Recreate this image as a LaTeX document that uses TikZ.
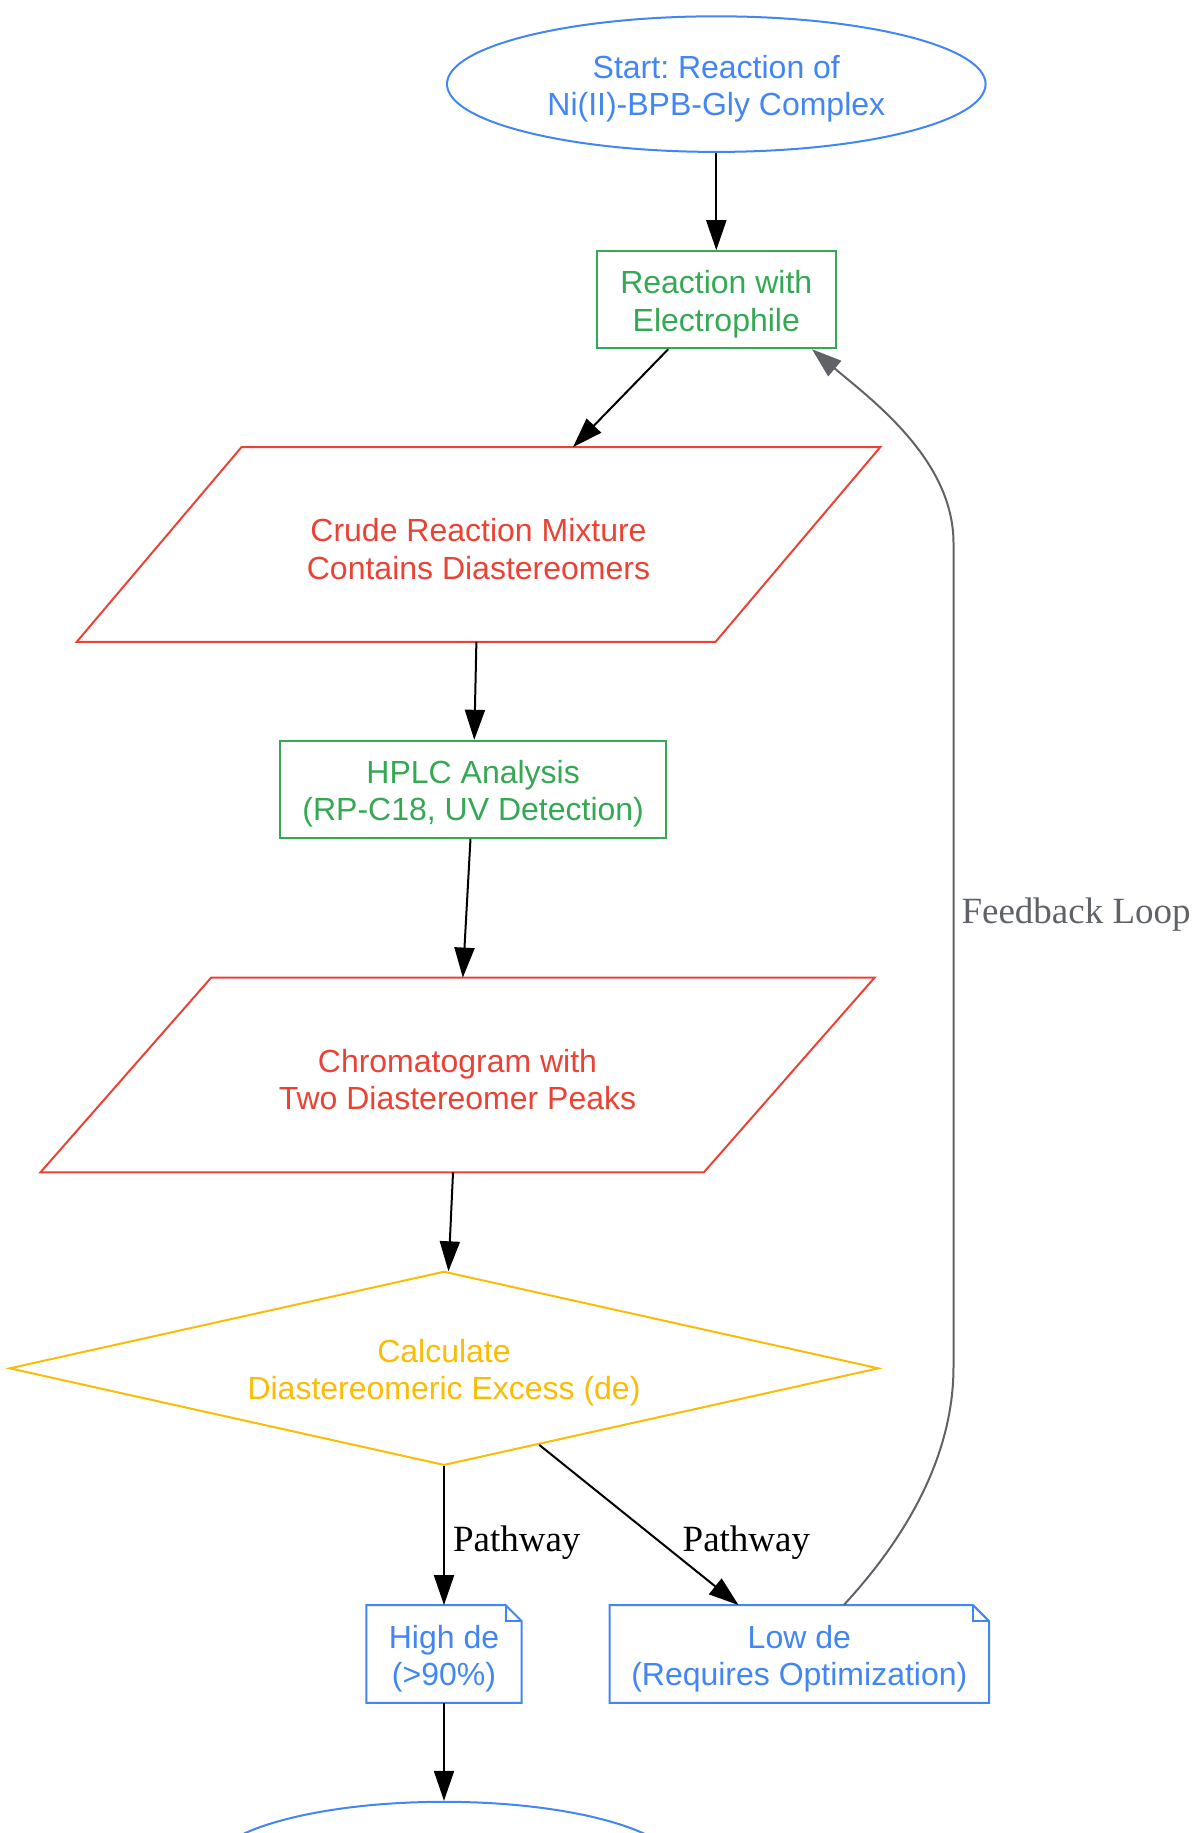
\documentclass[tikz,border=0pt]{standalone}
\usepackage{fontspec}
\setmainfont{Liberation Sans}
\newfontfamily\edgefont{Liberation Serif}
\usetikzlibrary{shapes.geometric,arrows.meta,calc}
\frenchspacing

\definecolor{gblue}{HTML}{4285F4}
\definecolor{ggreen}{HTML}{34A853}
\definecolor{gred}{HTML}{EA4335}
\definecolor{gyellow}{HTML}{FBBC05}
\definecolor{ggrey}{HTML}{5F6368}

\newcommand{\tstrut}{\rule{0pt}{16pt}}

\tikzset{
  txt/.style={align=center, inner sep=0pt, font=\fontsize{16}{18.7}\selectfont},
  term/.style={txt, ellipse, draw=gblue, text=gblue, line width=1pt, minimum width=269.3pt, minimum height=67.8pt},
  box/.style={txt, rectangle, draw=#1, text=#1, line width=1pt, minimum height=48.5pt},
  iobox/.style={txt, rectangle, text=gred, minimum height=97pt},
  decide/.style={txt, diamond, aspect=4.48, draw=gyellow, text=gyellow, line width=1pt, minimum width=434.7pt, minimum height=97pt},
  note/.style={txt, rectangle, text=gblue, minimum height=48.5pt},
  flow/.style={line width=1pt, -{Triangle[length=15pt,width=10pt]}},
  back/.style={flow, color=ggrey},
  lbl/.style={inner sep=0pt, yshift=-2.3pt, font=\edgefont\fontsize{18.5}{22}\selectfont}
}

% slanted frame round an input/output node
\newcommand{\ioframe}[2]{%
  \draw[gred, line width=1pt] ([xshift=#2]#1.north west) -- ([xshift=#2]#1.north east)
    -- ([xshift=-#2]#1.south east) -- ([xshift=-#2]#1.south west) -- cycle;}
% note frame with folded corner
\newcommand{\noteframe}[1]{%
  \draw[gblue, line width=1pt] (#1.south west) -- (#1.north west) -- ([xshift=-8pt]#1.north east)
    -- ([yshift=-8pt]#1.north east) -- (#1.south east) -- cycle;
  \draw[gblue, line width=1pt] ([xshift=-8pt]#1.north east) |- ([yshift=-8pt]#1.north east);}

\begin{document}
\begin{tikzpicture}[x=0.5pt,y=-0.5pt]
  \useasboundingbox (0,0) rectangle (1193,1833);
  \clip (0,0) rectangle (1193,1833);

  % nodes
  \node[term] (start) at (716.3,84.1) {\tstrut Start: Reaction of\\Ni(II)-BPB-Gly Complex};
  \node[box=ggreen, minimum width=119.2pt] (react) at (716.3,299.7) {\tstrut Reaction with\\Electrophile};
  \node[iobox, minimum width=319pt] (crude) at (478.5,544.5) {\tstrut Crude Reaction Mixture\\Contains Diastereomers};
  \node[box=ggreen, minimum width=192.8pt] (hplc) at (473.2,789.3) {\tstrut HPLC Analysis\\(RP-C18, UV Detection)};
  \node[iobox, minimum width=331.3pt] (chrom) at (457.5,1075) {\tstrut Chromatogram with\\Two Diastereomer Peaks};
  \node[decide] (dec) at (444,1368.3) {\tstrut Calculate\\Diastereomeric Excess (de)};
  \node[note, minimum width=77.2pt] (high) at (444,1654) {\tstrut High de\\(>90\%)};
  \node[note, minimum width=189.3pt] (low) at (799.3,1654) {\tstrut Low de\\(Requires Optimization)};
  \node[term, minimum width=236pt] (finish) at (444,1869.6) {};

  \ioframe{crude}{41.2pt}
  \ioframe{chrom}{42.7pt}
  \noteframe{high}
  \noteframe{low}

  % connectors
  \draw[flow] (start) -- (react);
  \draw[flow] (react) -- (crude);
  \draw[flow] (crude) -- (hplc);
  \draw[flow] (hplc) -- (chrom);
  \draw[flow] (chrom) -- (dec);
  \draw[flow] (dec) -- node[lbl, pos=0.52, right=4pt] {Pathway} (high);
  \draw[flow] (dec) -- node[lbl, pos=0.58, right=13.4pt] {Pathway} (low);
  \draw[flow] (high) -- (finish);

  % feedback loop
  \coordinate (fbbot) at (953.5,1367);
  \coordinate (fbtop) at (953.5,543);
  \draw[back] ([xshift=22.2pt]low.north) .. controls (890,1555) and (953.5,1470) .. (fbbot)
    -- node[lbl, text=ggrey, pos=0.555, right=3.5pt] {Feedback Loop} (fbtop)
    .. controls (953.5,460) and (872,400) .. ([xshift=47.8pt]react.south);
\end{tikzpicture}
\end{document}
